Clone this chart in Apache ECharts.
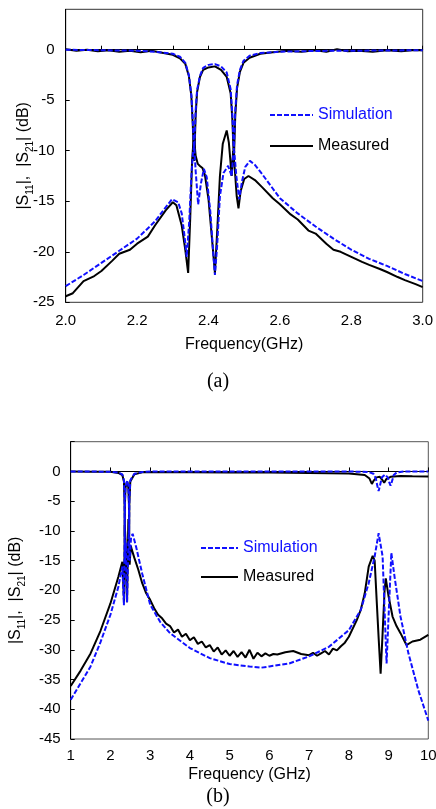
<!DOCTYPE html>
<html>
<head>
<meta charset="utf-8">
<script src="https://cdn.jsdelivr.net/npm/echarts@6/dist/echarts.min.js"></script>
<style>
html, body { margin: 0; padding: 0; background: #fff; }
#chart { width: 436px; height: 809px; }
</style>
</head>
<body>
<div id="chart"></div>
<script>
// ---- (a) 2.0 - 3.0 GHz ----
let freqA_simS21 = [2.00, 2.10, 2.20, 2.25, 2.30, 2.32, 2.335, 2.345, 2.352, 2.356, 2.360, 2.364, 2.368, 2.376, 2.385, 2.400, 2.418, 2.435, 2.451, 2.462, 2.467, 2.471, 2.475, 2.480, 2.488, 2.498, 2.515, 2.545, 2.60, 2.70, 2.80, 2.90, 3.00];
let valA_simS21 = [0, -0.05, -0.1, -0.2, -0.4, -0.7, -1.3, -2.5, -4.5, -7, -10, -6, -4, -2.6, -1.8, -1.5, -1.42, -1.65, -2.25, -3.9, -6.5, -10, -6, -3.5, -2.0, -1.1, -0.6, -0.33, -0.2, -0.12, -0.1, -0.08, -0.05];

let freqA_measS21 = [2.00, 2.03, 2.06, 2.09, 2.12, 2.15, 2.18, 2.21, 2.24, 2.27, 2.30, 2.32, 2.335, 2.345, 2.352, 2.356, 2.360, 2.364, 2.368, 2.376, 2.385, 2.400, 2.418, 2.435, 2.451, 2.462, 2.467, 2.471, 2.475, 2.480, 2.488, 2.498, 2.515, 2.545, 2.58, 2.62, 2.66, 2.70, 2.73, 2.76, 2.79, 2.82, 2.86, 2.90, 2.94, 2.97, 3.00];
let valA_measS21 = [0.05, -0.1, 0.0, -0.15, -0.05, -0.2, -0.1, -0.25, -0.1, -0.3, -0.5, -0.85, -1.4, -2.6, -4.6, -7.5, -11, -6.5, -4.2, -2.7, -2.0, -1.75, -1.65, -2.0, -2.7, -4.3, -7, -11, -6.5, -3.8, -2.2, -1.3, -0.8, -0.4, -0.25, -0.1, -0.2, -0.05, -0.2, 0.05, -0.15, -0.1, -0.2, -0.05, -0.15, -0.05, -0.05];

let freqA_simS11 = [2.00, 2.05, 2.10, 2.15, 2.20, 2.25, 2.28, 2.298, 2.315, 2.325, 2.333, 2.339, 2.346, 2.352, 2.357, 2.360, 2.364, 2.371, 2.379, 2.387, 2.395, 2.405, 2.412, 2.418, 2.424, 2.432, 2.442, 2.455, 2.465, 2.469, 2.472, 2.478, 2.486, 2.494, 2.503, 2.516, 2.53, 2.55, 2.60, 2.65, 2.70, 2.75, 2.80, 2.85, 2.90, 2.95, 3.00];
let valA_simS11 = [-23.4, -22.3, -21.1, -19.9, -18.7, -17.0, -15.6, -14.8, -15.1, -16.2, -18.5, -20.5, -17, -12.5, -10, -9.5, -12, -15.3, -13.2, -11.8, -12.6, -16, -19.5, -22.3, -19.5, -14.5, -12.2, -11.5, -12.5, -10.5, -10, -12.5, -14.8, -13, -11.6, -11.0, -11.4, -12.3, -14.7, -16.2, -17.5, -18.7, -19.8, -20.7, -21.4, -22.2, -22.9];

let freqA_measS11 = [2.00, 2.02, 2.05, 2.08, 2.10, 2.13, 2.15, 2.18, 2.20, 2.23, 2.25, 2.28, 2.30, 2.31, 2.325, 2.335, 2.343, 2.349, 2.354, 2.359, 2.364, 2.370, 2.376, 2.383, 2.390, 2.400, 2.410, 2.418, 2.425, 2.432, 2.440, 2.451, 2.457, 2.465, 2.469, 2.474, 2.479, 2.484, 2.490, 2.500, 2.512, 2.53, 2.55, 2.58, 2.60, 2.63, 2.65, 2.68, 2.70, 2.73, 2.75, 2.77, 2.80, 2.83, 2.85, 2.88, 2.90, 2.93, 2.95, 2.98, 3.00];
let valA_measS11 = [-24.4, -24.1, -22.9, -22.4, -21.9, -20.9, -20.2, -19.8, -19.2, -18.5, -17.4, -15.9, -15.1, -15.4, -17.4, -19.8, -22.1, -16.5, -11, -8.5, -10.5, -11.3, -11.5, -11.7, -12.4, -14.8, -18.8, -22.1, -17.5, -12.5, -9.3, -8.0, -9.2, -12.5, -10, -12, -14.5, -15.7, -14, -12.8, -12.5, -12.9, -13.6, -14.7, -15.3, -16.3, -16.8, -17.9, -18.2, -19.2, -19.8, -20.0, -20.5, -21.0, -21.3, -21.7, -22.0, -22.5, -22.8, -23.2, -23.5];

// ---- (b) 1 - 10 GHz ----
let freqB_simS21 = [1.0, 2.0, 2.2, 2.3, 2.34, 2.355, 2.360, 2.365, 2.38, 2.42, 2.45, 2.466, 2.471, 2.476, 2.50, 2.60, 2.80, 3.0, 8.0, 8.5, 8.62, 8.68, 8.72, 8.75, 8.78, 8.83, 8.91, 8.98, 9.02, 9.05, 9.08, 9.13, 9.2, 9.4, 10.0];
let valB_simS21 = [0, -0.05, -0.2, -0.5, -1.5, -5, -10, -5, -2.5, -1.5, -2.3, -5, -10, -5, -1.5, -0.4, -0.1, 0, 0, -0.1, -0.4, -1.2, -2.5, -3.3, -2.5, -1.0, -0.55, -1.0, -1.9, -2.4, -1.8, -0.6, -0.2, 0, 0];

let freqB_measS21 = [1.0, 1.5, 2.0, 2.2, 2.3, 2.34, 2.355, 2.360, 2.365, 2.38, 2.42, 2.45, 2.466, 2.471, 2.476, 2.50, 2.60, 2.80, 3.0, 4.0, 5.0, 6.0, 7.0, 7.5, 8.0, 8.4, 8.52, 8.58, 8.63, 8.70, 8.78, 8.84, 8.89, 8.94, 9.05, 9.3, 9.6, 10.0];
let valB_measS21 = [0, -0.05, -0.05, -0.25, -0.6, -1.7, -5.5, -11, -5.5, -2.7, -1.7, -2.7, -5.5, -11, -5.5, -1.7, -0.5, -0.15, -0.1, -0.15, -0.2, -0.2, -0.25, -0.3, -0.35, -0.6, -1.2, -2.1, -1.5, -1.0, -0.9, -1.4, -1.9, -1.3, -0.9, -0.75, -0.8, -0.85];

let freqB_simS11 = [1.0, 1.25, 1.5, 1.75, 2.0, 2.2, 2.3, 2.339, 2.36, 2.371, 2.387, 2.418, 2.455, 2.47, 2.486, 2.52, 2.56, 2.65, 2.8, 3.0, 3.25, 3.5, 4.0, 4.5, 5.0, 5.5, 5.8, 6.0, 6.5, 7.0, 7.5, 8.0, 8.3, 8.5, 8.65, 8.75, 8.85, 8.92, 8.95, 9.0, 9.07, 9.15, 9.3, 9.5, 9.75, 10.0];
let valB_simS11 = [-38.4, -35.6, -32.8, -28.7, -24.1, -19.4, -16.0, -22.5, -10, -15, -12, -22, -11.5, -10, -15, -11, -10.5, -12.8, -17.2, -22.4, -25.3, -27.2, -29.7, -31.4, -32.4, -32.8, -33.0, -32.8, -32.3, -31.1, -29.5, -26.7, -23.3, -18.8, -14.3, -10.4, -14.3, -27, -32.3, -24.4, -13.7, -17.7, -24.4, -30.6, -36.8, -41.9];

let freqB_measS11 = [1.0, 1.25, 1.5, 1.75, 2.0, 2.2, 2.3, 2.343, 2.36, 2.38, 2.418, 2.451, 2.465, 2.484, 2.512, 2.54, 2.6, 2.7, 2.8, 2.9, 3.0, 3.1, 3.2, 3.3, 3.4, 3.5, 3.6, 3.7, 3.8, 3.9, 4.0, 4.1, 4.2, 4.3, 4.4, 4.5, 4.6, 4.7, 4.8, 4.9, 5.0, 5.1, 5.2, 5.3, 5.4, 5.5, 5.6, 5.7, 5.8, 5.9, 6.0, 6.1, 6.2, 6.4, 6.6, 6.8, 7.0, 7.1, 7.2, 7.3, 7.4, 7.5, 7.6, 7.7, 7.8, 7.9, 8.0, 8.2, 8.3, 8.4, 8.5, 8.6, 8.65, 8.7, 8.75, 8.8, 8.85, 8.9, 8.93, 9.0, 9.1, 9.2, 9.3, 9.45, 9.6, 9.8, 10.0];
let valB_measS11 = [-36.1, -33.5, -30.6, -26.8, -22.2, -17.7, -15.2, -22, -9, -11.5, -22, -8, -12.5, -15.7, -12.5, -13.2, -14.5, -16.5, -18.8, -20.5, -21.6, -23.0, -24.1, -24.7, -25.6, -26.0, -27.1, -26.6, -27.8, -27.3, -28.4, -27.9, -29.0, -28.6, -29.6, -29.2, -30.3, -29.6, -30.8, -30.1, -31.0, -30.2, -31.2, -30.4, -31.3, -30.0, -31.5, -30.5, -31.1, -30.6, -31.0, -30.7, -30.8, -30.4, -30.2, -30.7, -30.9, -30.5, -31.0, -30.6, -30.2, -30.8, -29.8, -30.1, -29.4, -28.8, -27.8, -25.0, -23.3, -20.5, -16.0, -14.2, -15.0, -21.6, -28, -34.0, -27.2, -20, -18.0, -21.0, -24.4, -26.0, -27.2, -29.2, -28.6, -28.3, -27.5];

const BLUE = '#1010ff';
const FONT = '"Liberation Sans", Arial, sans-serif';

function pairs(xs, ys) {
    let out = [];
    for (let i = 0; i < xs.length; i++) out.push([xs[i], ys[i]]);
    return out;
}

function curve(name, idx, xs, ys) {
    let sim = name === 'Simulation';
    return {
        type: 'line', name: name, xAxisIndex: idx, yAxisIndex: idx,
        data: pairs(xs, ys), symbol: 'none', smooth: false,
        lineStyle: { color: sim ? BLUE : '#000', width: 2, type: sim ? [5, 2] : 'solid' },
        itemStyle: { color: sim ? BLUE : '#000' },
        z: sim ? 3 : 2
    };
}

function yName() {
    return {
        name: '|S{s|11}|,  |S{s|21}| (dB)',
        nameLocation: 'middle',
        nameMoveOverlap: false,
        nameTextStyle: {
            fontSize: 16, color: '#000', fontFamily: FONT, lineHeight: 16,
            rich: { s: { fontSize: 10, lineHeight: 24, verticalAlign: 'bottom', fontFamily: FONT, color: '#000' } }
        }
    };
}

let axisCommon = {
    type: 'value',
    axisLine: { show: true, lineStyle: { color: '#000', width: 1 } },
    axisTick: { show: true, inside: true, length: 4, lineStyle: { color: '#000' } },
    splitLine: { show: false },
    axisLabel: { color: '#000', fontSize: 15, fontFamily: FONT }
};

// legend icon: line only, hide the marker
let legendCommon = {
    orient: 'vertical', itemHeight: 14, padding: 0,
    itemStyle: { opacity: 0, borderWidth: 0 },
    textStyle: { fontSize: 16, fontFamily: FONT },
    data: [{ name: 'Simulation', textStyle: { color: BLUE } }, { name: 'Measured', textStyle: { color: '#000' } }]
};

let option = {
    animation: false,
    backgroundColor: '#fff',
    grid: [
        { left: 65.7, top: 9.3, width: 357, height: 293, show: true, borderColor: '#333', borderWidth: 1, outerBoundsMode: 'none', containLabel: false },
        { left: 70.7, top: 441.7, width: 357.6, height: 297.3, show: true, borderColor: '#555', borderWidth: 1, outerBoundsMode: 'none', containLabel: false }
    ],
    xAxis: [
        Object.assign({}, axisCommon, {
            gridIndex: 0, min: 2, max: 3, interval: 0.1,
            axisLabel: Object.assign({}, axisCommon.axisLabel, { margin: 11,
                formatter: v => (Math.round(v * 10) % 2 === 0 ? v.toFixed(1) : '') }),
            name: 'Frequency(GHz)', nameLocation: 'middle', nameGap: 34, nameMoveOverlap: false,
            nameTextStyle: { fontSize: 16, color: '#000', fontFamily: FONT }
        }),
        Object.assign({}, axisCommon, {
            gridIndex: 1, min: 1, max: 10, interval: 1,
            axisLabel: Object.assign({}, axisCommon.axisLabel, { margin: 9 }),
            name: 'Frequency (GHz)', nameLocation: 'middle', nameGap: 28, nameMoveOverlap: false,
            nameTextStyle: { fontSize: 16, color: '#000', fontFamily: FONT }
        })
    ],
    yAxis: [
        Object.assign({}, axisCommon, yName(), {
            gridIndex: 0, min: -25, max: 4, interval: 5, nameGap: 30,
            axisTick: Object.assign({}, axisCommon.axisTick, { customValues: [-25, -20, -15, -10, -5, 0] }),
            axisLabel: Object.assign({}, axisCommon.axisLabel, { margin: 11,
                formatter: v => (v > 0 ? '' : String(v)) })
        }),
        Object.assign({}, axisCommon, yName(), {
            gridIndex: 1, min: -45, max: 5, interval: 5, nameGap: 43,
            axisLabel: Object.assign({}, axisCommon.axisLabel, { margin: 10,
                formatter: v => (v > 0 ? '' : String(v)) })
        })
    ],
    legend: [
        Object.assign({}, legendCommon, { left: 269, top: 107, itemWidth: 43, itemGap: 15 }),
        Object.assign({}, legendCommon, { left: 200, top: 540, itemWidth: 37, itemGap: 13 })
    ],
    graphic: [
        { type: 'text', left: 'center', top: 372, style: { text: '(a)', font: '20px "Liberation Serif", "Times New Roman", serif', fill: '#000' } },
        { type: 'text', left: 'center', top: 787, style: { text: '(b)', font: '20px "Liberation Serif", "Times New Roman", serif', fill: '#000' } }
    ],
    series: [
        curve('Measured', 0, freqA_measS21, valA_measS21),
        curve('Measured', 0, freqA_measS11, valA_measS11),
        curve('Simulation', 0, freqA_simS21, valA_simS21),
        curve('Simulation', 0, freqA_simS11, valA_simS11),
        curve('Measured', 1, freqB_measS21, valB_measS21),
        curve('Measured', 1, freqB_measS11, valB_measS11),
        curve('Simulation', 1, freqB_simS21, valB_simS21),
        curve('Simulation', 1, freqB_simS11, valB_simS11)
    ]
};

let chart = echarts.init(document.getElementById('chart'), null, { renderer: 'canvas' });
chart.setOption(option);
</script>
</body>
</html>
